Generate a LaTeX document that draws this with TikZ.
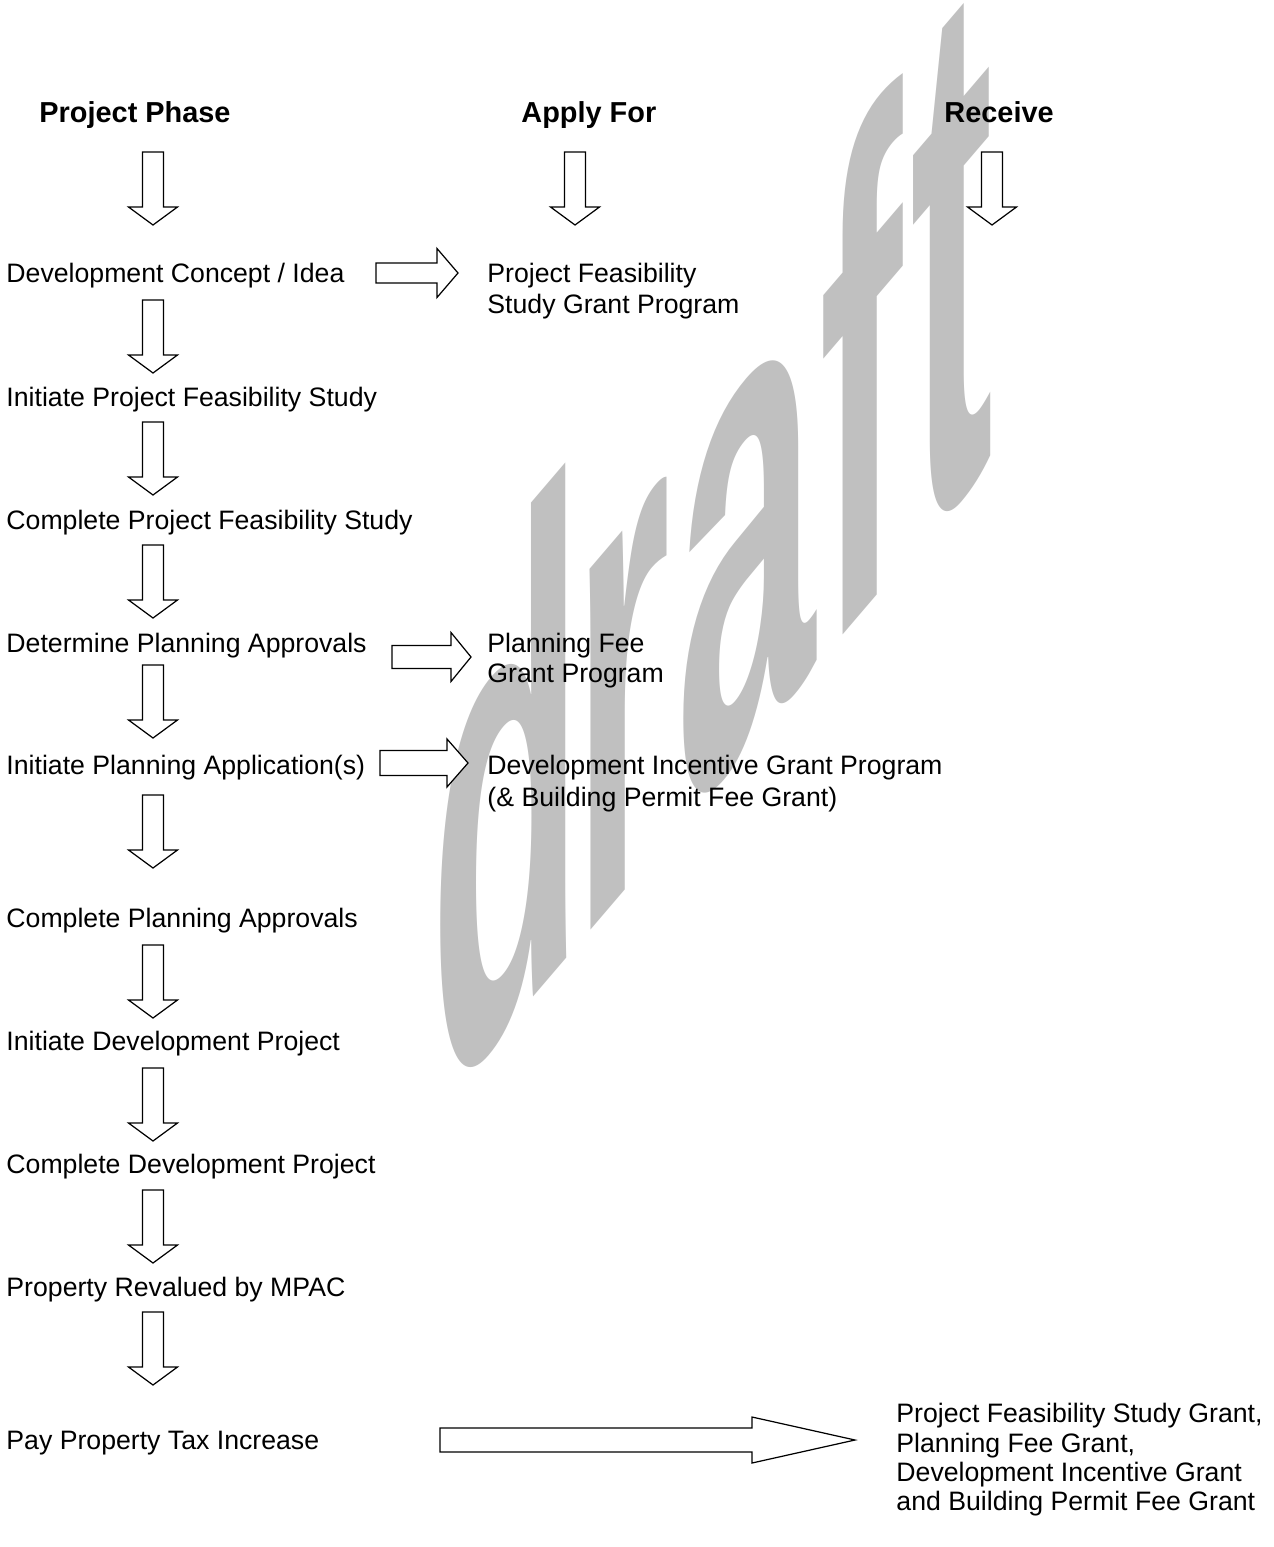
\documentclass[tikz,border=0pt]{standalone}
\usepackage{fontspec}
\setmainfont{Liberation Sans}
\definecolor{wm}{RGB}{192,192,192}
\newcommand\blockarrowR[6]{% #1 tail x, #2 centre y, #3 head base x, #4 tip x, #5 shaft half, #6 head half
  \draw[blk] (#1,#2-#5) -- (#3,#2-#5) -- (#3,#2-#6) -- (#4,#2) -- (#3,#2+#6) -- (#3,#2+#5) -- (#1,#2+#5) -- cycle;}
\begin{document}
\begin{tikzpicture}[x=0.45pt,y=-0.45pt,
  txt/.style={anchor=base west, inner sep=0pt, font=\fontsize{12pt}{14pt}\selectfont},
  hd/.style={anchor=base west, inner sep=0pt, font=\fontsize{13pt}{15pt}\selectfont\bfseries},
  blk/.style={draw=black, fill=white, line width=0.55pt, line join=miter},
  wmark/.style={anchor=base west, inner sep=0pt, text=wm,
    font=\fontsize{112.5pt}{112.5pt}\selectfont\bfseries,
    cm={1,1.17,0,#1,(0,0)}, transform shape},
  wmark/.default=2.74,
  darr/.pic={\draw[blk] (-10.5,0) -- (10.5,0) -- (10.5,55) -- (24.5,55) -- (0,73) -- (-24.5,55) -- (-10.5,55) -- cycle;}]
\fill[white] (0,0) rectangle (1274,1547);
\useasboundingbox (0,0) rectangle (1274,1547);

% watermark, one letter at a time
\begin{scope}[shift={(430,1118)}]\node[wmark] (wd) at (0,0) {d};\end{scope}
\begin{scope}[shift={(573,950.7)}]\node[wmark] (wr) at (0,0) {r};\end{scope}
\begin{scope}[shift={(676,830.2)}]\node[wmark] (wa) at (0,0) {a};\end{scope}
\begin{scope}[shift={(819,662.9)}]\node[wmark] (wf) at (0,0) {f};\end{scope}
\begin{scope}[shift={(910,556.4)}]\node[wmark=3.0] (wt) at (0,0) {t};\end{scope}

% headings
\node[hd] (h1) at (39,123) {Project Phase};
\node[hd] (h2) at (521,123) {Apply For};
\node[hd] (h3) at (944,123) {Receive};

% down arrows
\pic (ah1) at (153,152) {darr};
\pic (ah2) at (575,152) {darr};
\pic (ah3) at (992,152) {darr};
\pic (a1) at (153,300) {darr};
\pic (a2) at (153,422) {darr};
\pic (a3) at (153,545) {darr};
\pic (a4) at (153,665) {darr};
\pic (a5) at (153,795) {darr};
\pic (a6) at (153,945) {darr};
\pic (a7) at (153,1068) {darr};
\pic (a8) at (153,1190) {darr};
\pic (a9) at (153,1312) {darr};

% right arrows
\blockarrowR{376}{273}{437}{458}{10}{24.5}
\blockarrowR{392}{657}{451}{471}{11.5}{24.5}
\blockarrowR{380}{763}{447}{468}{12.5}{24}
\blockarrowR{440}{1440}{752}{855}{12}{23}

% project phases
\node[txt] (p1) at (6,283) {Development Concept / Idea};
\node[txt] (p2) at (6,407) {Initiate Project Feasibility Study};
\node[txt] (p3) at (6,529) {Complete Project Feasibility Study};
\node[txt] (p4) at (6,652) {Determine Planning Approvals};
\node[txt] (p5) at (6,774) {Initiate Planning Application(s)};
\node[txt] (p6) at (6,927) {Complete Planning Approvals};
\node[txt] (p7) at (6,1050) {Initiate Development Project};
\node[txt] (p8) at (6,1173) {Complete Development Project};
\node[txt] (p9) at (6,1296) {Property Revalued by MPAC};
\node[txt] (p10) at (6,1449) {Pay Property Tax Increase};

% apply for
\node[txt] (g1a) at (487,283) {Project Feasibility};
\node[txt] (g1b) at (487,314) {Study Grant Program};
\node[txt] (g2a) at (487,652) {Planning Fee};
\node[txt] (g2b) at (487,682) {Grant Program};
\node[txt] (g3a) at (487,774) {Development Incentive Grant Program};
\node[txt] (g3b) at (487,806) {(\& Building Permit Fee Grant)};

% receive
\node[txt] (r1) at (896,1422) {Project Feasibility Study Grant,};
\node[txt] (r2) at (896,1452) {Planning Fee Grant,};
\node[txt] (r3) at (896,1481) {Development Incentive Grant};
\node[txt] (r4) at (896,1510) {and Building Permit Fee Grant};
\end{tikzpicture}
\end{document}
